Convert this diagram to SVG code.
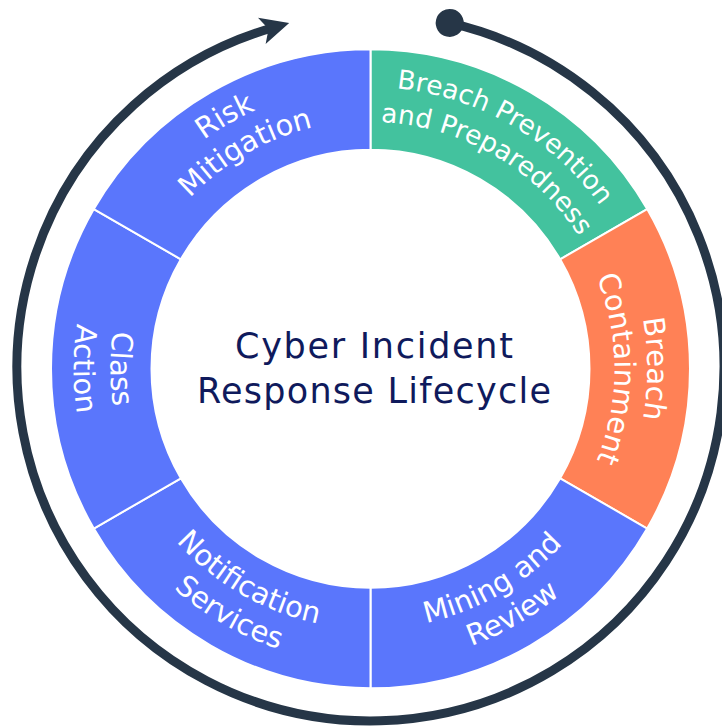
<svg xmlns="http://www.w3.org/2000/svg" width="722" height="727" viewBox="0 0 722 727">
  <style>
    .seg { stroke: #ffffff; stroke-width: 2; }
    .blue { fill: #5a76fc; }
    .green { fill: #43c29e; }
    .orange { fill: #ff8156; }
    .lbl { font-family: "DejaVu Sans", "Liberation Sans", sans-serif; fill: #ffffff; font-size: 29px; }
    .lbl.small { font-size: 26.5px; }
    .title { font-family: "DejaVu Sans", "Liberation Sans", sans-serif; fill: #0f1a5c; font-size: 35px; text-anchor: middle; }
    .cycle { fill: none; stroke: #263647; stroke-width: 9; }
  </style>
  <defs>
    <marker id="arrowHead" markerUnits="userSpaceOnUse" viewBox="-12 -15 32 30" markerWidth="32" markerHeight="30" refX="0" refY="0" orient="auto">
      <path d="M18,0 L-10.5,-13.7 L-3.5,0 L-10.5,13.7 Z" fill="#263647"/>
    </marker>
    <marker id="startDot" markerUnits="userSpaceOnUse" viewBox="-15 -15 30 30" markerWidth="30" markerHeight="30" refX="0" refY="0" orient="auto">
      <circle cx="0" cy="0" r="14" fill="#263647"/>
    </marker>
    <!-- label baselines -->
    <path id="p1a" d="M125.42,227.3 A283,283 0 0 1 615.58,510.3"/>
    <path id="p1b" d="M155.73,244.8 A248,248 0 0 1 585.27,492.8"/>
    <path id="p2a" d="M370.5,91.8 A277,277 0 0 1 370.5,645.8"/>
    <path id="p2b" d="M370.5,124.8 A244,244 0 0 1 370.5,612.8"/>
    <path id="p3a" d="M143.61,499.8 A262,262 0 0 0 597.39,237.8"/>
    <path id="p3b" d="M113.3,517.3 A297,297 0 0 0 627.7,220.3"/>
    <path id="p4a" d="M143.61,237.8 A262,262 0 0 0 597.39,499.8"/>
    <path id="p4b" d="M113.3,220.3 A297,297 0 0 0 627.7,517.3"/>
    <path id="p5a" d="M370.5,108.8 A260,260 0 0 0 370.5,628.8"/>
    <path id="p5b" d="M370.5,71.8 A297,297 0 0 0 370.5,665.8"/>
    <path id="p6a" d="M123.69,511.3 A285,285 0 0 1 617.31,226.3"/>
    <path id="p6b" d="M154,493.8 A250,250 0 0 1 587,243.8"/>
  </defs>

  <g id="connectors">
    <path class="cycle" d="M449.72,22.98 A353.5,353.5 0 1 1 271.9,28.0" marker-start="url(#startDot)" marker-end="url(#arrowHead)"/>
  </g>

  <g id="node-breach-prevention">
    <path class="seg green" d="M370.5,49.3 A319.5,319.5 0 0 1 647.19,209.05 L560.16,259.3 A219,219 0 0 0 370.5,149.8 Z"/>
    <text class="lbl small"><textPath href="#p1a" startOffset="50%" text-anchor="middle">Breach Prevention</textPath></text>
    <text class="lbl small"><textPath href="#p1b" startOffset="50%" text-anchor="middle">and Preparedness</textPath></text>
  </g>

  <g id="node-breach-containment">
    <path class="seg orange" d="M647.19,209.05 A319.5,319.5 0 0 1 647.19,528.55 L560.16,478.3 A219,219 0 0 0 560.16,259.3 Z"/>
    <text class="lbl"><textPath href="#p2a" startOffset="50%" text-anchor="middle">Breach</textPath></text>
    <text class="lbl"><textPath href="#p2b" startOffset="50%" text-anchor="middle">Containment</textPath></text>
  </g>

  <g id="node-mining-review">
    <path class="seg blue" d="M647.19,528.55 A319.5,319.5 0 0 1 370.5,688.3 L370.5,587.8 A219,219 0 0 0 560.16,478.3 Z"/>
    <text class="lbl"><textPath href="#p3a" startOffset="50%" text-anchor="middle">Mining and</textPath></text>
    <text class="lbl"><textPath href="#p3b" startOffset="50%" text-anchor="middle">Review</textPath></text>
  </g>

  <g id="node-notification-services">
    <path class="seg blue" d="M370.5,688.3 A319.5,319.5 0 0 1 93.81,528.55 L180.84,478.3 A219,219 0 0 0 370.5,587.8 Z"/>
    <text class="lbl"><textPath href="#p4a" startOffset="50%" text-anchor="middle">Notification</textPath></text>
    <text class="lbl"><textPath href="#p4b" startOffset="50%" text-anchor="middle">Services</textPath></text>
  </g>

  <g id="node-class-action">
    <path class="seg blue" d="M93.81,528.55 A319.5,319.5 0 0 1 93.81,209.05 L180.84,259.3 A219,219 0 0 0 180.84,478.3 Z"/>
    <text class="lbl"><textPath href="#p5a" startOffset="50%" text-anchor="middle">Class</textPath></text>
    <text class="lbl"><textPath href="#p5b" startOffset="50%" text-anchor="middle">Action</textPath></text>
  </g>

  <g id="node-risk-mitigation">
    <path class="seg blue" d="M93.81,209.05 A319.5,319.5 0 0 1 370.5,49.3 L370.5,149.8 A219,219 0 0 0 180.84,259.3 Z"/>
    <text class="lbl"><textPath href="#p6a" startOffset="50%" text-anchor="middle">Risk</textPath></text>
    <text class="lbl"><textPath href="#p6b" startOffset="50%" text-anchor="middle">Mitigation</textPath></text>
  </g>

  <g id="node-title">
    <text class="title" x="374" y="358.3" textLength="278" lengthAdjust="spacing">Cyber Incident</text>
    <text class="title" x="374" y="403.3" textLength="354" lengthAdjust="spacing">Response Lifecycle</text>
  </g>
</svg>
